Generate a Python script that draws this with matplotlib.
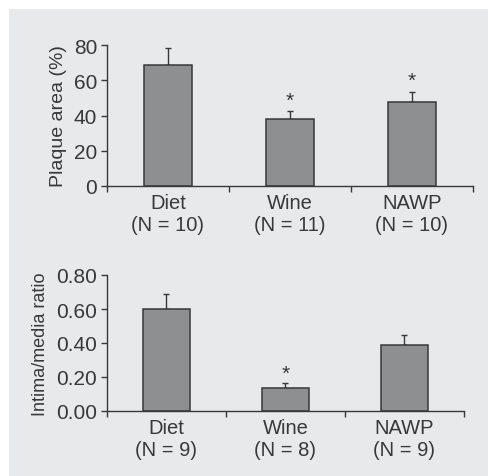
import numpy as np
import matplotlib
matplotlib.use("Agg")
import matplotlib.pyplot as plt
from matplotlib.patches import Rectangle

# ---- data ----------------------------------------------------------------- #
GROUPS = ["Diet", "Wine", "NAWP"]
PLAQUE_N = [10, 11, 10]
PLAQUE = [68.7, 38.0, 47.8]
PLAQUE_ERR = [9.7, 4.7, 5.7]
PLAQUE_SIG = [False, True, True]

RATIO_N = [9, 8, 9]
RATIO = [0.60, 0.137, 0.386]
RATIO_ERR = [0.088, 0.030, 0.060]
RATIO_SIG = [False, True, False]

INK = "#383838"
BAR = "#8e8f91"
BG = "#e8e9eb"

plt.rcParams.update({"font.family": ["Liberation Sans", "DejaVu Sans"],
                     "text.color": INK, "axes.labelcolor": INK,
                     "xtick.color": INK, "ytick.color": INK})

fig = plt.figure(figsize=(4.89, 4.77), dpi=100)
fig.patches.append(Rectangle((9 / 489, 0), 1, 1 - 10 / 477, transform=fig.transFigure,
                             facecolor=BG, edgecolor="none", zorder=-10))


def panel(rect, vals, errs, sig, ns, ylim, yticks, yfmt, ylabel, star_off, lab_fs):
    ax = fig.add_axes(rect)
    ax.set_facecolor("none")
    x = np.arange(len(vals)) + 0.5
    ax.bar(x, vals, width=0.4, color=BAR, edgecolor=INK, linewidth=1.1, zorder=2)
    ax.errorbar(x, vals, yerr=[np.zeros(len(errs)), errs], fmt="none",
                ecolor=INK, elinewidth=1.0, capsize=2.5, capthick=1.0, zorder=1)
    for xi, v, e, s in zip(x, vals, errs, sig):
        if s:
            ax.annotate("*", (xi, v + e), xytext=(0, star_off), textcoords="offset points",
                        ha="center", va="bottom", fontsize=15, color=INK)
    ax.set_xlim(0, len(vals))
    ax.set_ylim(*ylim)
    ax.set_yticks(yticks)
    ax.set_yticklabels([yfmt.format(t) for t in yticks], fontsize=15)
    ax.set_xticks(np.arange(len(vals) + 1))
    ax.set_xticklabels([])
    ax.set_xticks(x, minor=True)
    ax.set_xticklabels(["{}\n(N = {})".format(g, n) for g, n in zip(GROUPS, ns)],
                       minor=True, fontsize=14.5, linespacing=1.2)
    ax.tick_params(axis="x", which="minor", length=0, pad=5)
    ax.tick_params(axis="x", which="major", direction="out", length=4, width=1)
    ax.tick_params(axis="y", direction="out", length=4, width=1, pad=3)
    for sp in ("top", "right"):
        ax.spines[sp].set_visible(False)
    for sp in ("left", "bottom"):
        ax.spines[sp].set_color(INK)
        ax.spines[sp].set_linewidth(1.0)
    ax.set_ylabel(ylabel, fontsize=lab_fs, labelpad=5)
    return ax


panel([107 / 489, 1 - 187 / 477, 366 / 489, 141 / 477], PLAQUE, PLAQUE_ERR, PLAQUE_SIG,
      PLAQUE_N, (0, 80), [0, 20, 40, 60, 80], "{:.0f}", "Plaque area (%)", 1, 14)
panel([107 / 489, 1 - 412 / 477, 357 / 489, 136 / 477], RATIO, RATIO_ERR, RATIO_SIG,
      RATIO_N, (0, 0.8), [0, 0.2, 0.4, 0.6, 0.8], "{:.2f}", "Intima/media ratio", 0, 13)

fig.savefig("out.png", dpi=100)
